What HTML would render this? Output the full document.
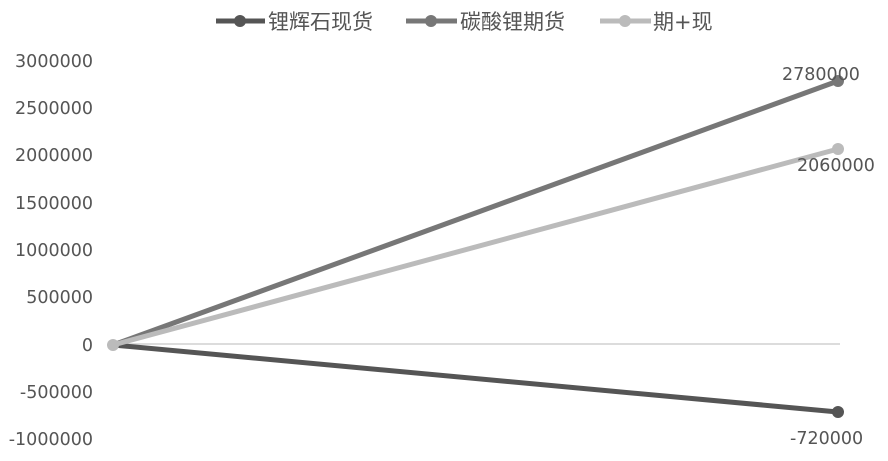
<!DOCTYPE html>
<html><head><meta charset="utf-8"><style>
body{margin:0;background:#fff;}
svg text{font-family:"DejaVu Sans","Noto Sans CJK SC",sans-serif;fill:#555;}
</style></head><body>
<svg width="888" height="456" xmlns="http://www.w3.org/2000/svg">
<g font-size="21">
<line x1="216" y1="21" x2="265" y2="21" stroke="#555" stroke-width="5"/><circle cx="240" cy="21" r="6" fill="#555"/>
<text x="268" y="29">锂辉石现货</text>
<line x1="406" y1="21" x2="457" y2="21" stroke="#777" stroke-width="5"/><circle cx="431" cy="21" r="6" fill="#777"/>
<text x="460" y="29">碳酸锂期货</text>
<line x1="600" y1="21" x2="651" y2="21" stroke="#bbb" stroke-width="5"/><circle cx="625" cy="21" r="6" fill="#bbb"/>
<text x="653" y="29">期+现</text>
</g>
<g font-size="17.5" text-anchor="end">
<text x="93" y="67">3000000</text>
<text x="93" y="114">2500000</text>
<text x="93" y="161">2000000</text>
<text x="93" y="209">1500000</text>
<text x="93" y="256">1000000</text>
<text x="93" y="303">500000</text>
<text x="93" y="351">0</text>
<text x="93" y="398">-500000</text>
<text x="93" y="445">-1000000</text>
</g>
<line x1="108" y1="344" x2="840" y2="344" stroke="#d0d0d0" stroke-width="1.5"/>
<line x1="113" y1="345" x2="838" y2="412" stroke="#555" stroke-width="5"/>
<line x1="113" y1="345" x2="838" y2="81" stroke="#777" stroke-width="5"/>
<line x1="113" y1="345" x2="838" y2="149" stroke="#bbb" stroke-width="5"/>
<circle cx="113" cy="345" r="6" fill="#bbb"/>
<circle cx="838" cy="412" r="6" fill="#555"/>
<circle cx="838" cy="81" r="6" fill="#777"/>
<circle cx="838" cy="149" r="6" fill="#bbb"/>
<g font-size="17.5">
<text x="782" y="80">2780000</text>
<text x="797" y="171">2060000</text>
<text x="790" y="444">-720000</text>
</g>
</svg>
</body></html>
